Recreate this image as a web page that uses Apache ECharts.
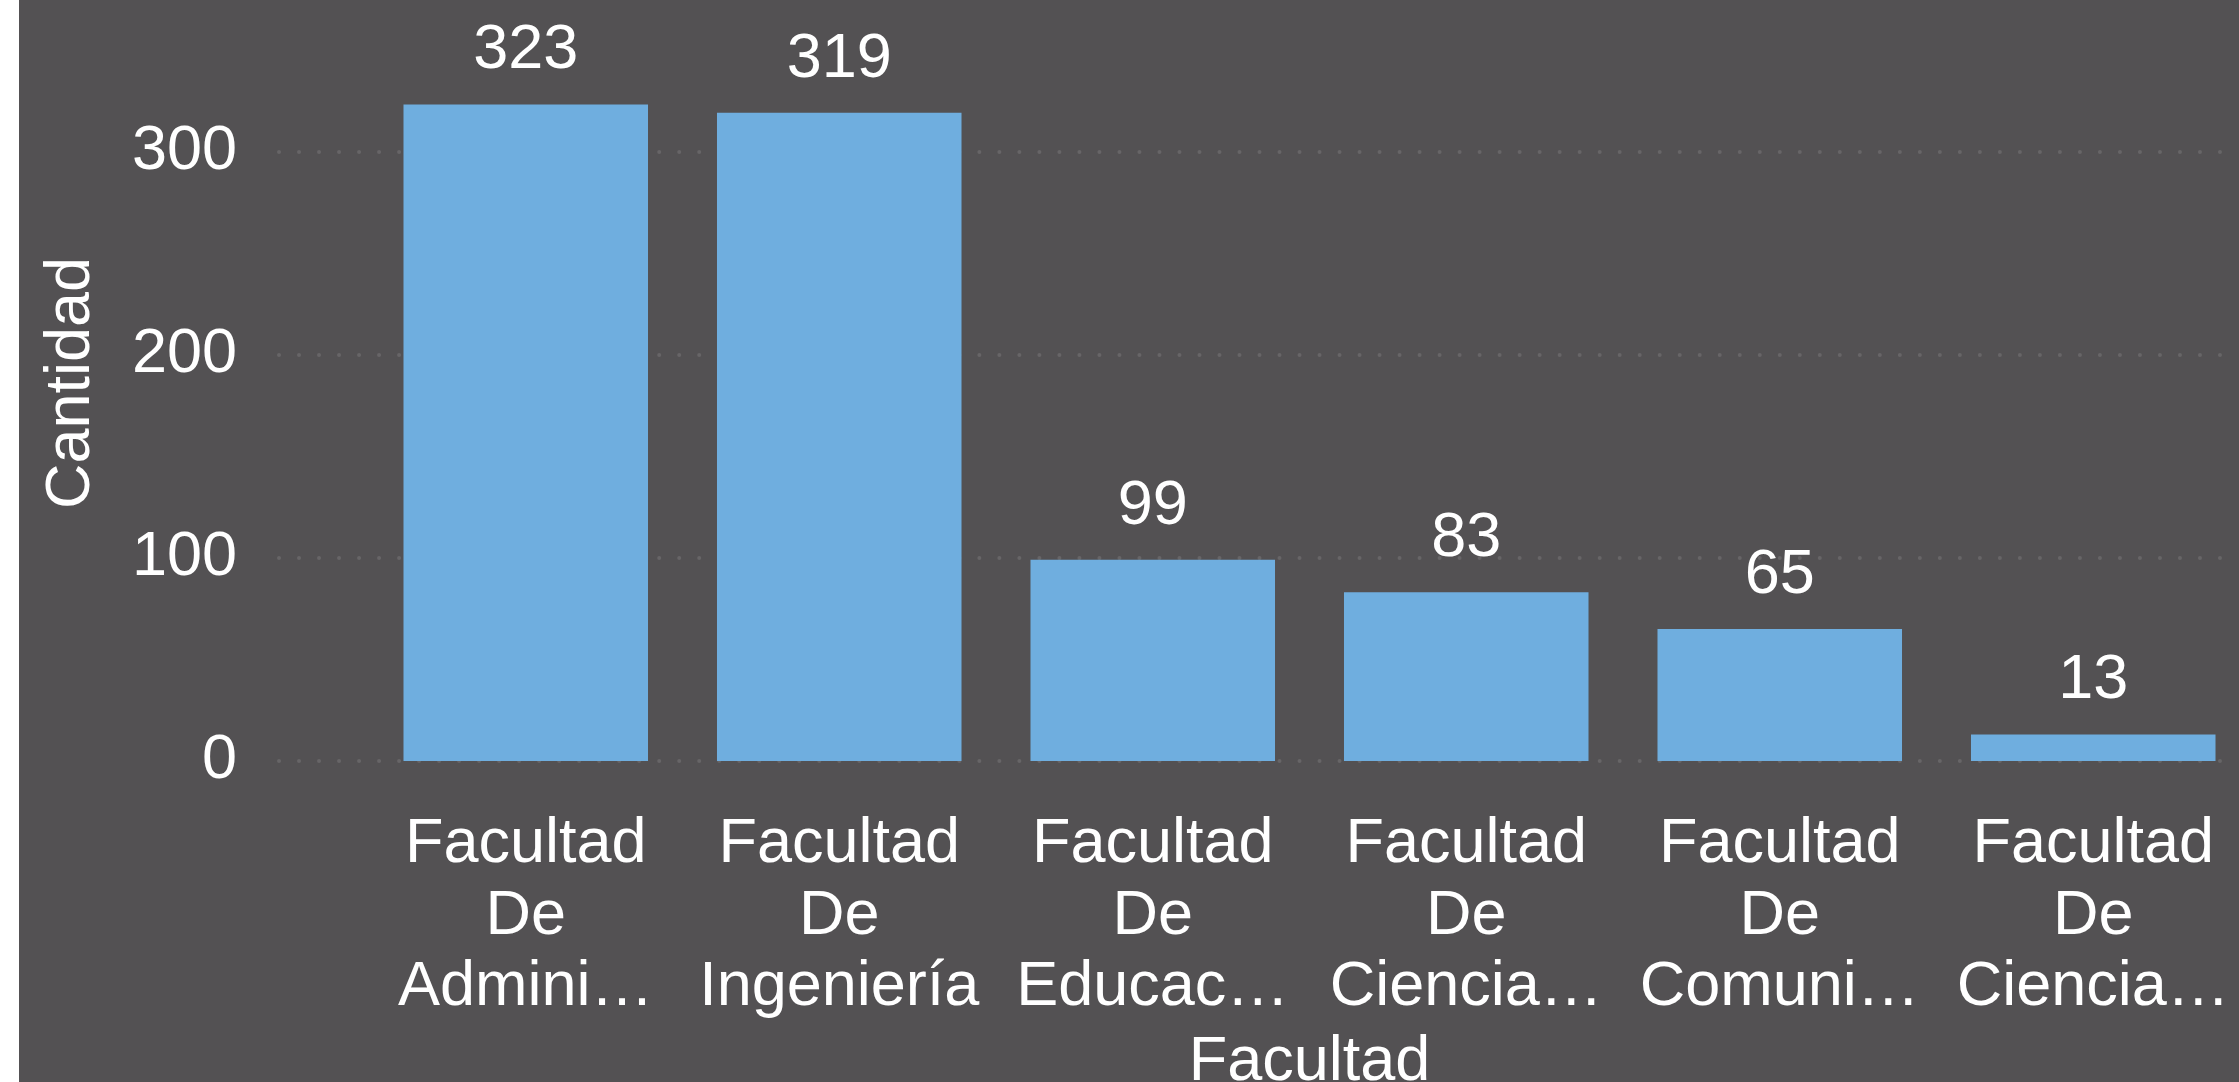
<!DOCTYPE html>
<html>
<head>
<meta charset="utf-8">
<script src="https://cdn.jsdelivr.net/npm/echarts@6/dist/echarts.min.js"></script>
<style>
  html, body { margin: 0; padding: 0; background: #ffffff; }
  #chart { position: absolute; left: 19px; top: 0; width: 2220px; height: 1082px; background: #535153; }
</style>
</head>
<body>
<div id="chart"></div>
<script>
// --- data ---
const facultades = [
    'Facultad De Admini…',
    'Facultad De Ingeniería',
    'Facultad De Educac…',
    'Facultad De Ciencia…',
    'Facultad De Comuni…',
    'Facultad De Ciencia…'
];
const cantidades = [323, 319, 99, 83, 65, 13];
const yTicks = [0, 100, 200, 300];

// --- style ---
const FONT = "'Liberation Sans', Arial, sans-serif";
const TEXT = '#ffffff';
const BAR = '#6FAEDF';
const DOTS = '#676567';
const FS = 63;
const Y_MAX = 372;

const chart = echarts.init(document.getElementById('chart'));

chart.setOption({
    animation: false,
    backgroundColor: '#535153',
    grid: [
        // eje y + lineas punteadas
        { left: 245, right: 0, top: 5, bottom: 321, outerBoundsMode: 'none' },
        // barras
        { left: 350, right: -11, top: 5, bottom: 321, outerBoundsMode: 'none' }
    ],
    xAxis: [
        { gridIndex: 0, type: 'value', show: false, min: 0, max: 1 },
        {
            gridIndex: 1,
            type: 'category',
            data: facultades,
            name: 'Facultad',
            nameLocation: 'middle',
            nameGap: 270,
            nameTextStyle: { color: TEXT, fontSize: FS, fontFamily: FONT },
            axisLine: { show: false },
            axisTick: { show: false },
            axisLabel: {
                interval: 0,
                margin: 48,
                color: TEXT,
                fontSize: FS,
                lineHeight: 71.5,
                fontFamily: FONT,
                formatter: (v) => v.split(' ').join('\n')
            }
        }
    ],
    yAxis: [
        {
            gridIndex: 0,
            type: 'value',
            min: 0,
            max: Y_MAX,
            interval: 100,
            name: 'Cantidad',
            nameLocation: 'middle',
            nameGap: 161,
            nameTextStyle: { color: TEXT, fontSize: FS, fontFamily: FONT },
            axisLine: { show: false },
            axisTick: { show: false },
            axisLabel: {
                margin: 27,
                color: TEXT,
                fontSize: FS,
                fontFamily: FONT,
                showMaxLabel: false,
                formatter: (v) => (yTicks.includes(v) ? String(v) : '')
            },
            splitLine: {
                show: true,
                showMaxLine: false,
                lineStyle: { color: DOTS, width: 4, type: [0.01, 20], dashOffset: 5, cap: 'round' }
            }
        },
        { gridIndex: 1, type: 'value', min: 0, max: Y_MAX, interval: 100, show: false, splitLine: { show: false } }
    ],
    series: [
        {
            type: 'bar',
            xAxisIndex: 1,
            yAxisIndex: 1,
            data: cantidades,
            barCategoryGap: '22%',
            itemStyle: { color: BAR },
            label: {
                show: true,
                position: 'top',
                distance: 22,
                color: TEXT,
                fontSize: FS,
                fontFamily: FONT
            }
        }
    ]
});
</script>
</body>
</html>
